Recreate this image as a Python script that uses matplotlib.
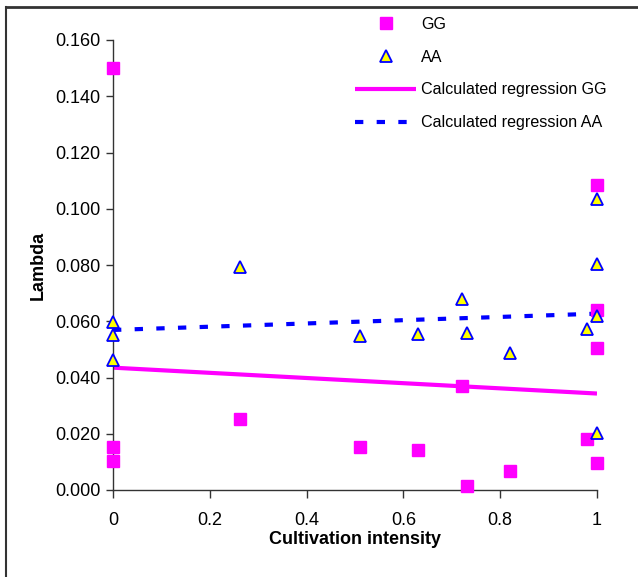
import matplotlib
matplotlib.use("Agg")
import matplotlib.pyplot as plt
from matplotlib.lines import Line2D

plt.rcParams['font.family'] = ['Liberation Sans', 'DejaVu Sans']

# cultivation intensity per site, lambda for the two genotypes
x_sites = [0, 0, 0, 0.262, 0.51, 0.63, 0.721, 0.731, 0.82, 0.979, 1, 1, 1, 1]
gg = [0.150, 0.0152, 0.0103, 0.0252, 0.0152, 0.0142, 0.0370, 0.0014,
      0.0069, 0.0180, 0.1084, 0.0640, 0.0504, 0.0095]
aa = [0.0597, 0.0550, 0.0462, 0.0794, 0.0548, 0.0555, 0.0678, 0.0560,
      0.0486, 0.0571, 0.1034, 0.0804, 0.0619, 0.0204]

# calculated regression lines (end points)
reg_x = [0, 1]
reg_gg = [0.0435, 0.0343]
reg_aa = [0.0569, 0.0627]

yticks = [0.0, 0.02, 0.04, 0.06, 0.08, 0.10, 0.12, 0.14, 0.16]
xticks = [0, 0.2, 0.4, 0.6, 0.8, 1]

fig = plt.figure(figsize=(6.38, 5.77), dpi=100)
ax = fig.add_axes([113 / 638, 1 - 490 / 577, 484 / 638, 450 / 577])

l_gg, = ax.plot(reg_x, reg_gg, color='#ff00ff', lw=3, solid_capstyle='butt', zorder=2)
l_aa, = ax.plot(reg_x, reg_aa, color='#0000ff', lw=3, dashes=(2, 3.2), zorder=2)
s_gg, = ax.plot(x_sites, gg, ls='none', marker='s', ms=8.5, color='#ff00ff',
                zorder=3, clip_on=False)
s_aa, = ax.plot(x_sites, aa, ls='none', marker='^', ms=8.5, markerfacecolor='#ffff00',
                markeredgecolor='#0000ff', markeredgewidth=1.3, zorder=4, clip_on=False)

ax.set_xlim(0, 1)
ax.set_ylim(0, 0.16)
ax.set_yticks(yticks)
ax.set_yticklabels(['%.3f' % v for v in yticks])
ax.set_xticks(xticks)
ax.set_xticklabels(['0', '0.2', '0.4', '0.6', '0.8', '1'])
ax.tick_params(axis='y', direction='out', length=5, width=1, labelsize=13, pad=4, color='#333333')
ax.tick_params(axis='x', direction='out', length=6, width=1, labelsize=13, pad=10, color='#333333')
for side in ['top', 'right']:
    ax.spines[side].set_visible(False)
for side in ['left', 'bottom']:
    ax.spines[side].set_color('#333333')
    ax.spines[side].set_linewidth(1)
ax.set_xlabel('Cultivation intensity', fontsize=13, fontweight='bold', labelpad=1)
ax.set_ylabel('Lambda', fontsize=13, fontweight='bold', labelpad=6)

fig.legend([s_gg, s_aa, l_gg, l_aa],
           ['GG', 'AA', 'Calculated regression GG', 'Calculated regression AA'],
           loc='upper left', bbox_to_anchor=(355 / 638, 1 - 17 / 577),
           frameon=False, fontsize=11.6, handlelength=3.8, handletextpad=0.3,
           labelspacing=1.1, borderpad=0, borderaxespad=0)

# outer frame (only left and top edges visible)
fig.add_artist(Line2D([6 / 638, 6 / 638], [0, 1 - 7 / 577], color='#333333', lw=1.5))
fig.add_artist(Line2D([6 / 638, 1], [1 - 7 / 577, 1 - 7 / 577], color='#333333', lw=2))

fig.savefig('out.png', dpi=100)
